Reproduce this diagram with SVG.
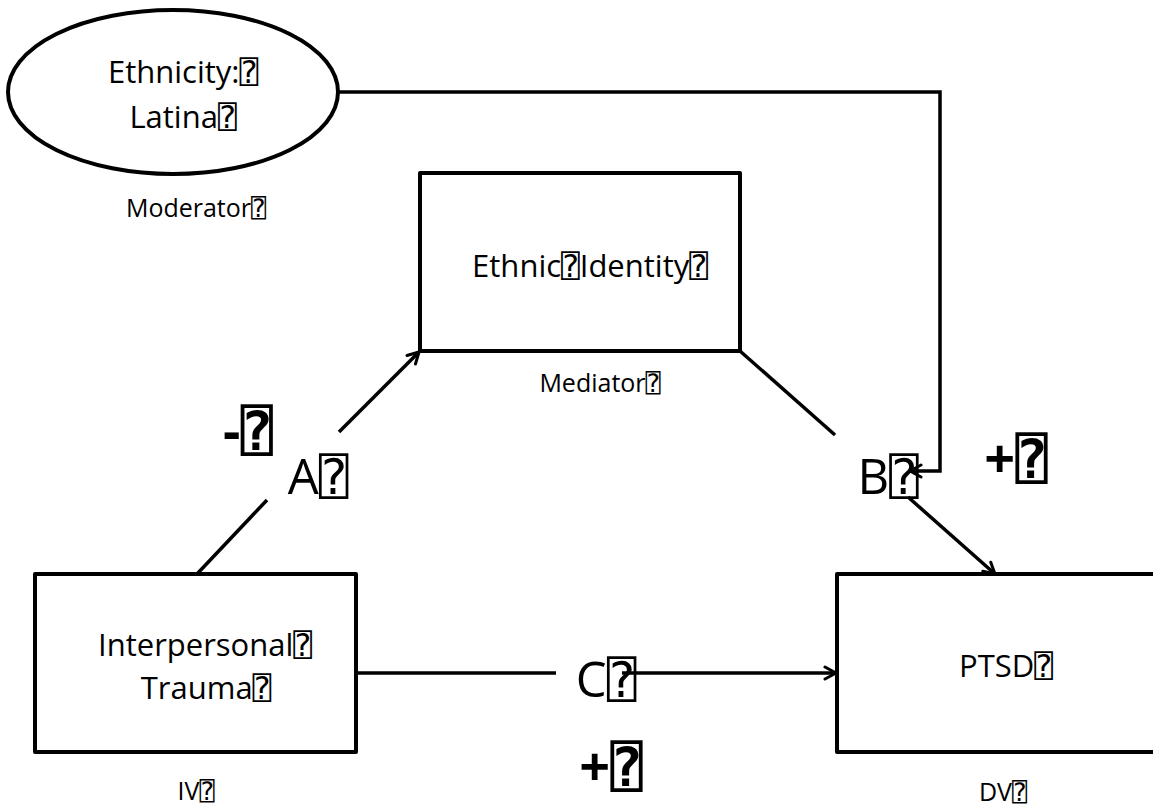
<svg xmlns="http://www.w3.org/2000/svg" width="1153" height="810" viewBox="0 0 1153 810">
<style>
.shape{fill:#fff;stroke:#000;stroke-width:4;stroke-linejoin:round}
.conn{fill:none;stroke:#000;stroke-width:3.5}
text{font-family:"Open Sans","DejaVu Sans","DejaVu Sans Mono",sans-serif;fill:#000;text-anchor:middle}
.main{font-size:31px}
.sub{font-size:25px}
.big{font-size:49px}
.sign{font-size:54px;font-weight:bold}
</style>
<defs>
<marker id="arr" viewBox="0 0 16 16" refX="14" refY="8" markerWidth="16" markerHeight="16" markerUnits="userSpaceOnUse" orient="auto">
<path d="M3,2 L14,8 L3,14" fill="none" stroke="#000" stroke-width="3" stroke-linecap="round" stroke-linejoin="round"/>
</marker>
</defs>
<rect width="1153" height="810" fill="#fff"/>
<g id="connectors">
<path class="conn" d="M338,92 H940 V471 H910" marker-end="url(#arr)"/>
<path class="conn" d="M197,574 L267,500"/>
<path class="conn" d="M339,432 L419,352" marker-end="url(#arr)"/>
<path class="conn" d="M740,351 L835,435"/>
<path class="conn" d="M908,497 L995,574" marker-end="url(#arr)"/>
<path class="conn" d="M356,673 H556"/>
<path class="conn" d="M622,673 H836" marker-end="url(#arr)"/>
</g>
<g id="moderator">
<ellipse class="shape" cx="173" cy="92" rx="165" ry="82"/>
<text class="main" x="183" y="83">Ethnicity:⍰</text>
<text class="main" x="183" y="128">Latina⍰</text>
<text class="sub" x="196" y="217">Moderator⍰</text>
</g>
<g id="mediator">
<rect class="shape" x="420" y="173" width="320" height="178"/>
<text class="main" x="590" y="277">Ethnic⍰Identity⍰</text>
<text class="sub" x="600" y="392">Mediator⍰</text>
</g>
<g id="iv">
<rect class="shape" x="35" y="574" width="321" height="178"/>
<text class="main" x="205" y="656">Interpersonal⍰</text>
<text class="main" x="206" y="699">Trauma⍰</text>
<text class="sub" x="196" y="800">IV⍰</text>
</g>
<g id="dv">
<rect class="shape" x="837" y="574" width="330" height="178"/>
<text class="main" x="1006" y="677">PTSD⍰</text>
<text class="sub" x="1003" y="801">DV⍰</text>
</g>
<g id="labels">
<text class="big" x="318" y="494">A⍰</text>
<text class="big" x="888" y="494">B⍰</text>
<text class="big" x="606" y="697">C⍰</text>
<text class="sign" x="248" y="450">-⍰</text>
<text class="sign" x="1016" y="478">+⍰</text>
<text class="sign" x="611" y="786">+⍰</text>
</g>
</svg>
